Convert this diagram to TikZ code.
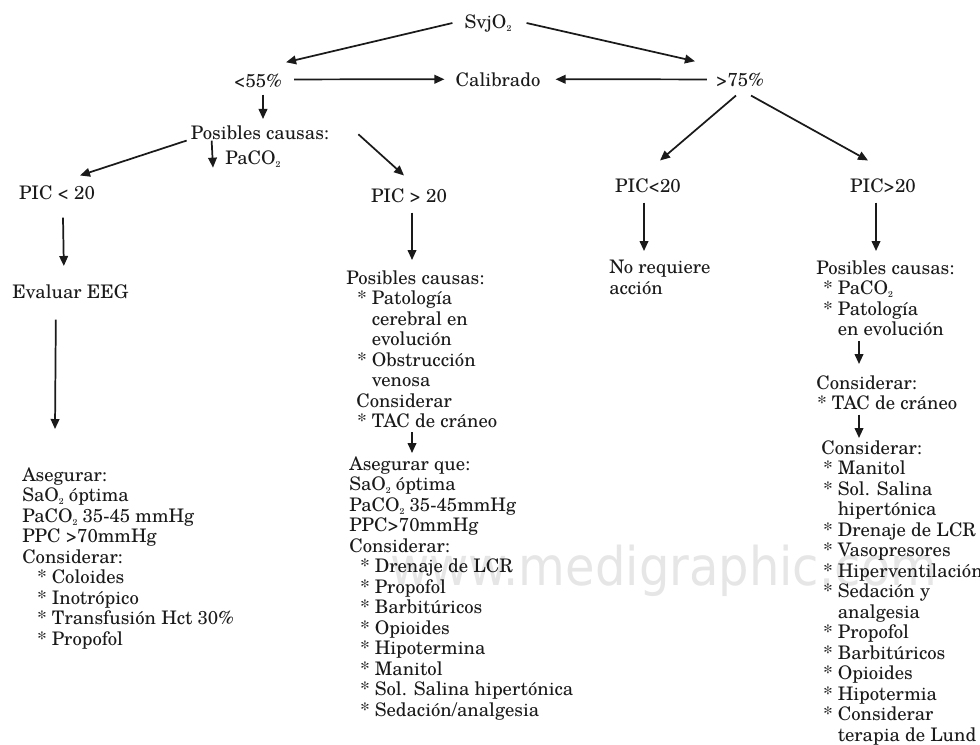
\documentclass[tikz,border=0pt]{standalone}
\usepackage{fontspec}
\usepackage{graphicx}
\setmainfont{TeX Gyre Schola}
\newfontfamily\marcafont{DejaVu Sans}
\usepackage{tikz}
\usetikzlibrary{arrows.meta,calc}
\definecolor{ink}{HTML}{1A1A1A}
\definecolor{marca}{HTML}{E6E6E6}
\newcommand\itm[1]{\hspace*{#1}*~}
\newcommand\cnt[1]{\hspace*{#1}\hphantom{*~}}
\newcommand\dos{\raisebox{-0.35ex}{\fontsize{6.5}{7}\selectfont 2}}

\begin{document}
\begin{tikzpicture}[x=0.75pt, y=-0.75pt,
  every node/.style={inner sep=0pt, text=ink, font=\fontsize{14}{15.4}\selectfont},
  bloque/.style={anchor=north west, align=left},
  flecha/.style={draw=ink, line width=1.3pt, -{Triangle[length=7.5pt,width=6.5pt]}}]
  \useasboundingbox (0,0) rectangle (980,744);

  % watermark
  \node[anchor=base west, text=marca, font=\marcafont\fontsize{40}{42}\selectfont] (wm) at (390,585) {\scalebox{0.9}[1]{www.medigraphic.com}};

  % top levels
  \node[anchor=base] (svj) at (488,28) {SvjO\dos};
  \node[anchor=base] (lt55) at (258,87) {<55\%};
  \node[anchor=base] (cal) at (498,86) {Calibrado};
  \node[anchor=base] (gt75) at (740,86) {>75\%};
  \node[anchor=base] (causas1) at (260,139) {Posibles causas:};
  \node[anchor=base west] (paco) at (225,164) {PaCO\dos};
  \node[anchor=base] (picl) at (57,199) {PIC < 20};
  \node[anchor=base] (picg) at (409,202) {PIC > 20};
  \node[anchor=base] (picrl) at (648,192) {PIC<20};
  \node[anchor=base] (picrg) at (883,192) {PIC>20};
  \node[anchor=base west] (eeg) at (12,298) {Evaluar EEG};

  % text blocks
  \node[bloque] (asegL) at (22,467) {Asegurar:\\SaO\dos{} óptima\\PaCO\dos{} 35-45 mmHg\\PPC >70mmHg\\Considerar:\\
    \itm{11.25pt}Coloides\\\itm{11.25pt}Inotrópico\\\itm{11.25pt}Transfusión Hct 30\%\\\itm{11.25pt}Propofol};
  \node[bloque] (causas2) at (346,270) {Posibles causas:\\\itm{8.25pt}Patología\\\cnt{8.25pt}cerebral en\\\cnt{8.25pt}evolución\\
    \itm{8.25pt}Obstrucción\\\cnt{8.25pt}venosa\\\hspace*{7.5pt}Considerar\\\itm{8.25pt}TAC de cráneo};
  \node[bloque] (aseg2) at (349,456) {Asegurar que:\\SaO\dos{} óptima\\PaCO\dos{} 35-45mmHg\\PPC>70mmHg\\Considerar:\\
    \itm{8.25pt}Drenaje de LCR\\\itm{8.25pt}Propofol\\\itm{8.25pt}Barbitúricos\\\itm{8.25pt}Opioides\\
    \itm{8.25pt}Hipotermina\\\itm{8.25pt}Manitol\\\itm{8.25pt}Sol. Salina hipertónica\\\itm{8.25pt}Sedación/analgesia};
  \node[bloque] (noreq) at (609,260) {No requiere\\acción};
  \node[bloque] (causas3) at (816,260) {Posibles causas:\\\itm{5.25pt}PaCO\dos\\\itm{5.25pt}Patología\\\cnt{5.25pt}en evolución};
  \node[bloque] (cons3) at (816,375) {Considerar:\\\itm{0.75pt}TAC de cráneo};
  \node[bloque] (cons4) at (821,440) {Considerar:\\\itm{1.5pt}Manitol\\\itm{1.5pt}Sol. Salina\\\cnt{1.5pt}hipertónica\\
    \itm{1.5pt}Drenaje de LCR\\\itm{1.5pt}Vasopresores\\\itm{1.5pt}Hiperventilación\\\itm{1.5pt}Sedación y\\\cnt{1.5pt}analgesia\\
    \itm{1.5pt}Propofol\\\itm{1.5pt}Barbitúricos\\\itm{1.5pt}Opioides\\\itm{1.5pt}Hipotermia\\\itm{1.5pt}Considerar\\\cnt{1.5pt}terapia de Lund};

  % arrows
  \foreach \s/\ds/\e/\de in {
      svj.west/{-12,0}/lt55.north east/{4,-11},
      svj.east/{15,0}/gt75.north west/{-21,-11},
      lt55.east/{12,-1}/cal.west/{-11,0},
      gt75.west/{-9,0}/cal.east/{15,0},
      lt55.south/{5,7}/causas1.north/{3,-6},
      causas1.south west/{-4,1}/picl.north/{23,-9.5},
      causas1.south west/{21,1}/paco.west/{-12,9},
      causas1.east/{29,2}/picg.north/{-5,-12.5},
      picl.south/{6,18}/eeg.north/{-6.5,-18},
      eeg.south/{-14.5,21}/asegL.north west/{33,-38},
      picg.south/{3,10}/causas2.north west/{66,-10},
      causas2.south west/{66,4}/aseg2.north west/{63,-3},
      gt75.south/{-4,9}/picrl.north/{12,-17.5},
      gt75.south/{11,9}/picrg.north/{-15,-17.5},
      picrl.south/{-4,10}/noreq.north west/{35,-9},
      picrg.south/{-7,10}/causas3.north west/{60,-9},
      causas3.south west/{43,5}/cons3.north west/{43,-11},
      cons3.south west/{43,4.5}/cons4.north west/{38,-2}}{
    \draw[flecha] ($(\s)+(\ds)$) -- ($(\e)+(\de)$);
  }
\end{tikzpicture}
\end{document}
